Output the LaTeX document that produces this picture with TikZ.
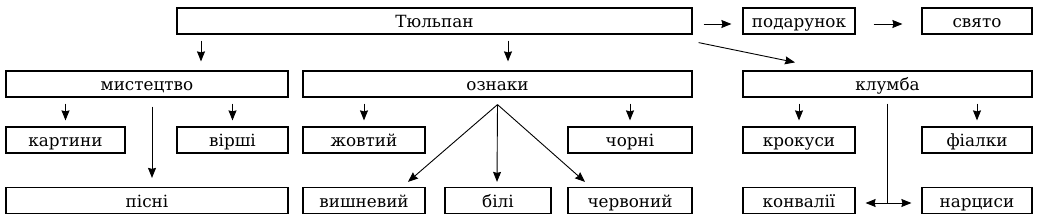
\documentclass[tikz,border=0pt]{standalone}
\usepackage{fontspec}
\setmainfont{DejaVu Serif}
\usetikzlibrary{arrows.meta}

\begin{document}
\begin{tikzpicture}[x=1pt, y=-1pt, font=\fontsize{16.8}{19}\selectfont,
    box/.style={draw, line width=1.2pt, inner sep=0pt, minimum height=26pt, text height=14pt, text depth=0pt},
    arr/.style={-{Stealth[length=10pt, width=8pt, inset=1pt]}, line width=0.9pt}]
    \useasboundingbox (0,0) rectangle (1044,221);
    % top row
    \node[box, minimum width=515pt] (tul) at (434.5,21) {Тюльпан};
    \node[box, minimum width=112pt] (pod) at (799,21) {подарунок};
    \node[box, minimum width=110pt] (sv) at (977,21) {свято};
    % second row
    \node[box, minimum width=282pt] (mys) at (147,84) {мистецтво};
    \node[box, minimum width=389pt] (ozn) at (497.5,84) {ознаки};
    \node[box, minimum width=289pt] (klu) at (887.5,84) {клумба};
    % third row
    \node[box, minimum width=119pt] (kar) at (65.5,140) {картини};
    \node[box, minimum width=111pt] (vir) at (232.5,140) {вірші};
    \node[box, minimum width=122pt] (zho) at (364,140) {жовтий};
    \node[box, minimum width=124pt] (cho) at (630,140) {чорні};
    \node[box, minimum width=112pt] (kro) at (799,140) {крокуси};
    \node[box, minimum width=110pt] (fia) at (977,140) {фіалки};
    % bottom row
    \node[box, minimum width=282pt] (pis) at (147,200.5) {пісні};
    \node[box, minimum width=122pt] (vys) at (364,200.5) {вишневий};
    \node[box, minimum width=106pt] (bil) at (498,200.5) {білі};
    \node[box, minimum width=124pt] (che) at (630,200.5) {червоний};
    \node[box, minimum width=112pt] (kon) at (799,200.5) {конвалії};
    \node[box, minimum width=110pt] (nar) at (977,200.5) {нарциси};
    % from the top box
    \draw[arr, shorten <=6pt, shorten >=9pt] ([xshift=-233.5pt]tul.south) -- ([xshift=54pt]mys.north);
    \draw[arr, shorten <=6pt, shorten >=9pt] ([xshift=73.5pt]tul.south) -- ([xshift=10.5pt]ozn.north);
    \draw[arr, shorten <=11pt, shorten >=11pt] ([yshift=-3pt]tul.east) -- ([yshift=-3pt]pod.west);
    \draw[arr, shorten <=18pt, shorten >=19pt] ([yshift=-3pt]pod.east) -- ([yshift=-3pt]sv.west);
    \draw[arr] ([xshift=6pt, yshift=-8pt]tul.south east) -- ([xshift=-92.5pt, yshift=8pt]klu.north);
    % мистецтво
    \draw[arr, shorten <=6pt, shorten >=6pt] (mys.south -| kar.north) -- (kar.north);
    \draw[arr, shorten <=6pt, shorten >=6pt] (mys.south -| vir.north) -- (vir.north);
    \draw[arr, shorten <=9pt, shorten >=9pt] ([xshift=5pt]mys.south) -- ([xshift=5pt]pis.north);
    % ознаки
    \draw[arr, shorten <=6pt, shorten >=6pt] (ozn.south -| zho.north) -- (zho.north);
    \draw[arr, shorten <=6pt, shorten >=6pt] (ozn.south -| cho.north) -- (cho.north);
    \coordinate (fan) at ([yshift=-7pt]ozn.south);
    \draw[arr] (fan) -- ([xshift=44pt, yshift=5pt]vys.north);
    \draw[arr] (fan) -- ([xshift=-1pt, yshift=5pt]bil.north);
    \draw[arr] (fan) -- ([xshift=-45pt, yshift=5pt]che.north);
    % клумба
    \draw[arr, shorten <=6pt, shorten >=6pt] (klu.south -| kro.north) -- (kro.north);
    \draw[arr, shorten <=6pt, shorten >=6pt] (klu.south -| fia.north) -- (fia.north);
    \coordinate (split) at ([yshift=-2.5pt]klu.south |- kon.east);
    \draw[line width=0.9pt] ([yshift=-6pt]klu.south) -- (split);
    \draw[arr] (split) -- ([xshift=10pt, yshift=-2.5pt]kon.east);
    \draw[arr] (split) -- ([xshift=-10pt, yshift=-2.5pt]nar.west);
\end{tikzpicture}
\end{document}
